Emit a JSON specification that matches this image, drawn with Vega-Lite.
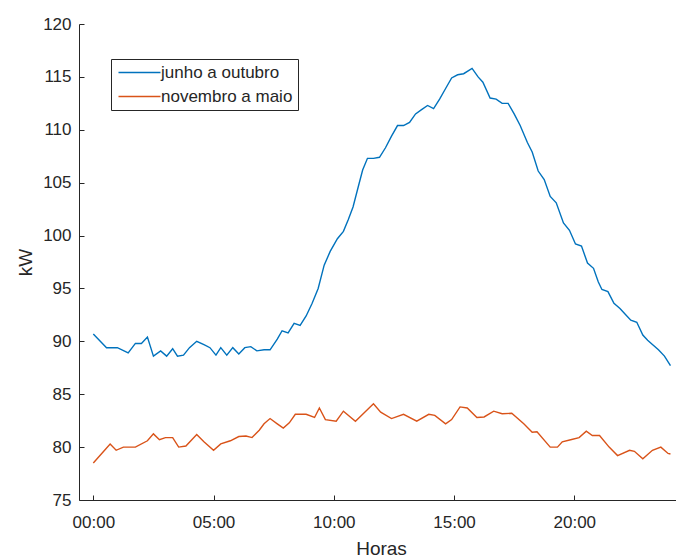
{
  "$schema": "https://vega.github.io/schema/vega-lite/v6.json",
  "width": 597,
  "height": 476,
  "autosize": "none",
  "padding": {"left": 79, "top": 24, "right": 0, "bottom": 57},
  "background": "white",
  "config": {
    "font": "Liberation Sans",
    "view": {"stroke": null},
    "axis": {"grid": false, "domainColor": "#262626", "tickColor": "#262626", "labelColor": "#262626", "titleColor": "#262626", "labelFont": "Liberation Sans", "titleFont": "Liberation Sans", "labelFontSize": 17, "titleFontSize": 19, "titleFontWeight": "normal", "domainWidth": 1, "tickWidth": 1}
  },
  "datasets": {
    "series": [
      {"h": 0, "v": 90.7, "s": "junho a outubro"},
      {"h": 0.55, "v": 89.4, "s": "junho a outubro"},
      {"h": 1.0, "v": 89.4, "s": "junho a outubro"},
      {"h": 1.45, "v": 88.9, "s": "junho a outubro"},
      {"h": 1.75, "v": 89.8, "s": "junho a outubro"},
      {"h": 2.0, "v": 89.8, "s": "junho a outubro"},
      {"h": 2.25, "v": 90.4, "s": "junho a outubro"},
      {"h": 2.5, "v": 88.6, "s": "junho a outubro"},
      {"h": 2.8, "v": 89.1, "s": "junho a outubro"},
      {"h": 3.05, "v": 88.6, "s": "junho a outubro"},
      {"h": 3.3, "v": 89.3, "s": "junho a outubro"},
      {"h": 3.5, "v": 88.6, "s": "junho a outubro"},
      {"h": 3.75, "v": 88.7, "s": "junho a outubro"},
      {"h": 4.0, "v": 89.4, "s": "junho a outubro"},
      {"h": 4.3, "v": 90.0, "s": "junho a outubro"},
      {"h": 4.6, "v": 89.7, "s": "junho a outubro"},
      {"h": 4.85, "v": 89.4, "s": "junho a outubro"},
      {"h": 5.1, "v": 88.7, "s": "junho a outubro"},
      {"h": 5.3, "v": 89.4, "s": "junho a outubro"},
      {"h": 5.55, "v": 88.7, "s": "junho a outubro"},
      {"h": 5.8, "v": 89.4, "s": "junho a outubro"},
      {"h": 6.05, "v": 88.8, "s": "junho a outubro"},
      {"h": 6.3, "v": 89.4, "s": "junho a outubro"},
      {"h": 6.55, "v": 89.5, "s": "junho a outubro"},
      {"h": 6.8, "v": 89.1, "s": "junho a outubro"},
      {"h": 7.1, "v": 89.2, "s": "junho a outubro"},
      {"h": 7.35, "v": 89.2, "s": "junho a outubro"},
      {"h": 7.65, "v": 90.2, "s": "junho a outubro"},
      {"h": 7.85, "v": 91.0, "s": "junho a outubro"},
      {"h": 8.1, "v": 90.8, "s": "junho a outubro"},
      {"h": 8.35, "v": 91.7, "s": "junho a outubro"},
      {"h": 8.6, "v": 91.5, "s": "junho a outubro"},
      {"h": 8.85, "v": 92.4, "s": "junho a outubro"},
      {"h": 9.1, "v": 93.6, "s": "junho a outubro"},
      {"h": 9.35, "v": 95.0, "s": "junho a outubro"},
      {"h": 9.6, "v": 97.2, "s": "junho a outubro"},
      {"h": 9.85, "v": 98.5, "s": "junho a outubro"},
      {"h": 10.15, "v": 99.7, "s": "junho a outubro"},
      {"h": 10.4, "v": 100.4, "s": "junho a outubro"},
      {"h": 10.6, "v": 101.5, "s": "junho a outubro"},
      {"h": 10.8, "v": 102.7, "s": "junho a outubro"},
      {"h": 11.05, "v": 104.9, "s": "junho a outubro"},
      {"h": 11.2, "v": 106.2, "s": "junho a outubro"},
      {"h": 11.4, "v": 107.3, "s": "junho a outubro"},
      {"h": 11.65, "v": 107.3, "s": "junho a outubro"},
      {"h": 11.9, "v": 107.4, "s": "junho a outubro"},
      {"h": 12.15, "v": 108.3, "s": "junho a outubro"},
      {"h": 12.4, "v": 109.4, "s": "junho a outubro"},
      {"h": 12.65, "v": 110.4, "s": "junho a outubro"},
      {"h": 12.9, "v": 110.4, "s": "junho a outubro"},
      {"h": 13.15, "v": 110.7, "s": "junho a outubro"},
      {"h": 13.4, "v": 111.5, "s": "junho a outubro"},
      {"h": 13.65, "v": 111.9, "s": "junho a outubro"},
      {"h": 13.9, "v": 112.3, "s": "junho a outubro"},
      {"h": 14.15, "v": 112.0, "s": "junho a outubro"},
      {"h": 14.4, "v": 112.9, "s": "junho a outubro"},
      {"h": 14.65, "v": 113.9, "s": "junho a outubro"},
      {"h": 14.9, "v": 114.9, "s": "junho a outubro"},
      {"h": 15.15, "v": 115.2, "s": "junho a outubro"},
      {"h": 15.4, "v": 115.3, "s": "junho a outubro"},
      {"h": 15.75, "v": 115.8, "s": "junho a outubro"},
      {"h": 16.0, "v": 115.0, "s": "junho a outubro"},
      {"h": 16.2, "v": 114.5, "s": "junho a outubro"},
      {"h": 16.5, "v": 113.0, "s": "junho a outubro"},
      {"h": 16.75, "v": 112.9, "s": "junho a outubro"},
      {"h": 17.0, "v": 112.5, "s": "junho a outubro"},
      {"h": 17.25, "v": 112.5, "s": "junho a outubro"},
      {"h": 17.5, "v": 111.5, "s": "junho a outubro"},
      {"h": 17.75, "v": 110.4, "s": "junho a outubro"},
      {"h": 18.05, "v": 108.8, "s": "junho a outubro"},
      {"h": 18.25, "v": 107.9, "s": "junho a outubro"},
      {"h": 18.5, "v": 106.1, "s": "junho a outubro"},
      {"h": 18.75, "v": 105.3, "s": "junho a outubro"},
      {"h": 19.0, "v": 103.7, "s": "junho a outubro"},
      {"h": 19.25, "v": 103.1, "s": "junho a outubro"},
      {"h": 19.55, "v": 101.2, "s": "junho a outubro"},
      {"h": 19.8, "v": 100.5, "s": "junho a outubro"},
      {"h": 20.05, "v": 99.2, "s": "junho a outubro"},
      {"h": 20.3, "v": 99.0, "s": "junho a outubro"},
      {"h": 20.55, "v": 97.4, "s": "junho a outubro"},
      {"h": 20.8, "v": 96.9, "s": "junho a outubro"},
      {"h": 21.0, "v": 95.6, "s": "junho a outubro"},
      {"h": 21.15, "v": 94.9, "s": "junho a outubro"},
      {"h": 21.4, "v": 94.7, "s": "junho a outubro"},
      {"h": 21.65, "v": 93.6, "s": "junho a outubro"},
      {"h": 21.9, "v": 93.1, "s": "junho a outubro"},
      {"h": 22.1, "v": 92.6, "s": "junho a outubro"},
      {"h": 22.35, "v": 92.0, "s": "junho a outubro"},
      {"h": 22.6, "v": 91.8, "s": "junho a outubro"},
      {"h": 22.85, "v": 90.6, "s": "junho a outubro"},
      {"h": 23.05, "v": 90.1, "s": "junho a outubro"},
      {"h": 23.25, "v": 89.7, "s": "junho a outubro"},
      {"h": 23.5, "v": 89.2, "s": "junho a outubro"},
      {"h": 23.75, "v": 88.6, "s": "junho a outubro"},
      {"h": 24.0, "v": 87.7, "s": "junho a outubro"},
      {"h": 0, "v": 78.5, "s": "novembro a maio"},
      {"h": 0.35, "v": 79.4, "s": "novembro a maio"},
      {"h": 0.7, "v": 80.3, "s": "novembro a maio"},
      {"h": 0.95, "v": 79.7, "s": "novembro a maio"},
      {"h": 1.25, "v": 80.0, "s": "novembro a maio"},
      {"h": 1.75, "v": 80.0, "s": "novembro a maio"},
      {"h": 2.25, "v": 80.6, "s": "novembro a maio"},
      {"h": 2.5, "v": 81.25, "s": "novembro a maio"},
      {"h": 2.75, "v": 80.7, "s": "novembro a maio"},
      {"h": 3.0, "v": 80.9, "s": "novembro a maio"},
      {"h": 3.3, "v": 80.9, "s": "novembro a maio"},
      {"h": 3.55, "v": 80.0, "s": "novembro a maio"},
      {"h": 3.85, "v": 80.1, "s": "novembro a maio"},
      {"h": 4.3, "v": 81.2, "s": "novembro a maio"},
      {"h": 4.6, "v": 80.5, "s": "novembro a maio"},
      {"h": 5.0, "v": 79.7, "s": "novembro a maio"},
      {"h": 5.3, "v": 80.3, "s": "novembro a maio"},
      {"h": 5.7, "v": 80.6, "s": "novembro a maio"},
      {"h": 6.05, "v": 81.0, "s": "novembro a maio"},
      {"h": 6.35, "v": 81.05, "s": "novembro a maio"},
      {"h": 6.6, "v": 80.9, "s": "novembro a maio"},
      {"h": 6.9, "v": 81.6, "s": "novembro a maio"},
      {"h": 7.1, "v": 82.2, "s": "novembro a maio"},
      {"h": 7.35, "v": 82.7, "s": "novembro a maio"},
      {"h": 7.65, "v": 82.2, "s": "novembro a maio"},
      {"h": 7.9, "v": 81.8, "s": "novembro a maio"},
      {"h": 8.15, "v": 82.3, "s": "novembro a maio"},
      {"h": 8.4, "v": 83.1, "s": "novembro a maio"},
      {"h": 8.85, "v": 83.1, "s": "novembro a maio"},
      {"h": 9.2, "v": 82.8, "s": "novembro a maio"},
      {"h": 9.4, "v": 83.7, "s": "novembro a maio"},
      {"h": 9.65, "v": 82.6, "s": "novembro a maio"},
      {"h": 10.1, "v": 82.45, "s": "novembro a maio"},
      {"h": 10.4, "v": 83.4, "s": "novembro a maio"},
      {"h": 10.9, "v": 82.45, "s": "novembro a maio"},
      {"h": 11.65, "v": 84.1, "s": "novembro a maio"},
      {"h": 11.95, "v": 83.3, "s": "novembro a maio"},
      {"h": 12.4, "v": 82.7, "s": "novembro a maio"},
      {"h": 12.9, "v": 83.1, "s": "novembro a maio"},
      {"h": 13.45, "v": 82.45, "s": "novembro a maio"},
      {"h": 13.95, "v": 83.1, "s": "novembro a maio"},
      {"h": 14.2, "v": 83.0, "s": "novembro a maio"},
      {"h": 14.65, "v": 82.2, "s": "novembro a maio"},
      {"h": 14.9, "v": 82.6, "s": "novembro a maio"},
      {"h": 15.25, "v": 83.8, "s": "novembro a maio"},
      {"h": 15.55, "v": 83.7, "s": "novembro a maio"},
      {"h": 15.95, "v": 82.8, "s": "novembro a maio"},
      {"h": 16.25, "v": 82.85, "s": "novembro a maio"},
      {"h": 16.65, "v": 83.4, "s": "novembro a maio"},
      {"h": 17.0, "v": 83.15, "s": "novembro a maio"},
      {"h": 17.4, "v": 83.2, "s": "novembro a maio"},
      {"h": 17.9, "v": 82.2, "s": "novembro a maio"},
      {"h": 18.25, "v": 81.4, "s": "novembro a maio"},
      {"h": 18.45, "v": 81.45, "s": "novembro a maio"},
      {"h": 19.0, "v": 80.0, "s": "novembro a maio"},
      {"h": 19.3, "v": 80.0, "s": "novembro a maio"},
      {"h": 19.5, "v": 80.5, "s": "novembro a maio"},
      {"h": 19.85, "v": 80.7, "s": "novembro a maio"},
      {"h": 20.2, "v": 80.9, "s": "novembro a maio"},
      {"h": 20.5, "v": 81.5, "s": "novembro a maio"},
      {"h": 20.75, "v": 81.1, "s": "novembro a maio"},
      {"h": 21.05, "v": 81.1, "s": "novembro a maio"},
      {"h": 21.45, "v": 80.0, "s": "novembro a maio"},
      {"h": 21.8, "v": 79.2, "s": "novembro a maio"},
      {"h": 22.3, "v": 79.7, "s": "novembro a maio"},
      {"h": 22.5, "v": 79.6, "s": "novembro a maio"},
      {"h": 22.85, "v": 78.9, "s": "novembro a maio"},
      {"h": 23.25, "v": 79.7, "s": "novembro a maio"},
      {"h": 23.6, "v": 80.0, "s": "novembro a maio"},
      {"h": 23.9, "v": 79.4, "s": "novembro a maio"},
      {"h": 24.0, "v": 79.35, "s": "novembro a maio"}
    ]
  },
  "data": {"name": "series"},
  "mark": {"type": "line", "strokeWidth": 1.4, "clip": true},
  "encoding": {
    "x": {
      "field": "h", "type": "quantitative",
      "scale": {"domain": [-0.595, 24.23], "nice": false, "zero": false},
      "axis": {
        "title": "Horas",
        "values": [0, 5, 10, 15, 20],
        "labelExpr": "(datum.value < 10 ? '0' : '') + datum.value + ':00'",
        "tickSize": -5,
        "labelPadding": 32,
        "labelBaseline": "alphabetic",
        "titleX": 302,
        "titleY": 54,
        "titleBaseline": "alphabetic",
        "titleAlign": "center"
      }
    },
    "y": {
      "field": "v", "type": "quantitative",
      "scale": {"domain": [75, 120], "nice": false, "zero": false},
      "axis": {
        "title": "kW",
        "values": [75, 80, 85, 90, 95, 100, 105, 110, 115, 120],
        "tickSize": -5,
        "labelPadding": 13,
        "titleX": -48,
        "titleY": 238,
        "titleBaseline": "alphabetic",
        "titleAlign": "center",
        "titleAngle": -90
      }
    },
    "color": {
      "field": "s", "type": "nominal",
      "scale": {"domain": ["junho a outubro", "novembro a maio"], "range": ["#0072BD", "#D95319"]},
      "legend": {
        "title": null,
        "orient": "none",
        "legendX": 32,
        "legendY": 35,
        "symbolType": "M-4.2,0H4.2",
        "symbolSize": 100,
        "symbolStrokeWidth": 1.4,
        "symbolOffset": 15,
        "labelFontSize": 17,
        "labelFont": "Liberation Sans",
        "labelColor": "#262626",
        "labelOffset": 13,
        "rowPadding": 6,
        "padding": 5,
        "strokeColor": "#262626",
        "fillColor": "white"
      }
    }
  }
}
